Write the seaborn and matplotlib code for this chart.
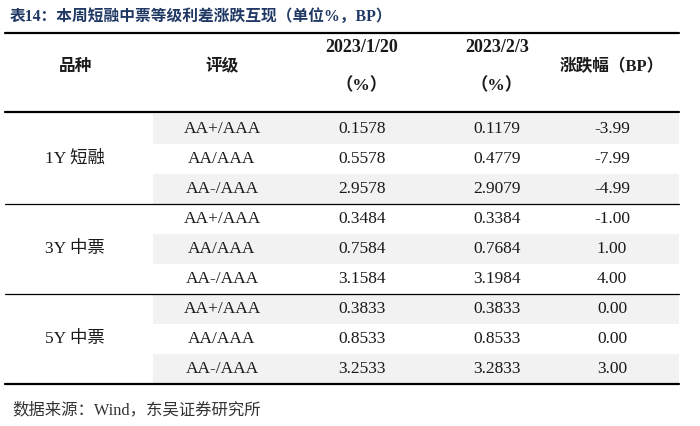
import numpy as np
import pandas as pd
import matplotlib
matplotlib.use('Agg')
import matplotlib.pyplot as plt
import seaborn as sns

# table data
title = '表14：本周短融中票等级利差涨跌互现（单位%，BP）'
source = '数据来源：Wind，东吴证券研究所'
header_cols = ['品种', '评级', '2023/1/20', '2023/2/3', '涨跌幅（BP）']
varieties = ['1Y 短融', '3Y 中票', '5Y 中票']
ratings = ['AA+/AAA', 'AA/AAA', 'AA-/AAA']
spread_0120 = [0.1578, 0.5578, 2.9578, 0.3484, 0.7584, 3.1584, 0.3833, 0.8533, 3.2533]
spread_0203 = [0.1179, 0.4779, 2.9079, 0.3384, 0.7684, 3.1984, 0.3833, 0.8533, 3.2833]
change_bp = [-3.99, -7.99, -4.99, -1.00, 1.00, 4.00, 0.00, 0.00, 3.00]

df = pd.DataFrame({
    'variety': np.repeat(varieties, len(ratings)),
    'rating': ratings * len(varieties),
    'd0120': spread_0120,
    'd0203': spread_0203,
    'chg': change_bp,
})

sns.set_theme(style='white')
plt.rcParams['font.family'] = ['Liberation Serif', 'Noto Sans CJK SC', 'DejaVu Sans']

fig = plt.figure(figsize=(7, 4.26), dpi=100)
ax = fig.add_axes([0, 0, 1, 1])
ax.set_xlim(0, 700)
ax.set_ylim(426, 0)
ax.axis('off')

# layout (pixels)
col_x = [75, 222, 362, 497, 612]
x_left, x_right = 5, 679
shade_left = 153
row_top, row_h = 114, 30
txt = '#1a1a1a'

ax.text(10, 17, title, ha='left', va='center', fontsize=11.3, fontweight='bold', color='#1F3864')

# horizontal rules
ax.plot([x_left, x_right], [33, 33], color='black', lw=1.6)
ax.plot([x_left, x_right], [112, 112], color='black', lw=1.6)

# header
ax.text(col_x[0], 67, header_cols[0], ha='center', va='center', fontsize=12, fontweight='bold', color=txt)
ax.text(col_x[1], 67, header_cols[1], ha='center', va='center', fontsize=12, fontweight='bold', color=txt)
for c in (2, 3):
    ax.text(col_x[c], 48, header_cols[c], ha='center', va='center', fontsize=13, fontweight='bold', color=txt)
    ax.text(col_x[c], 86, '（%）', ha='center', va='center', fontsize=12.5, fontweight='bold', color=txt)
ax.text(col_x[4], 67, header_cols[4], ha='center', va='center', fontsize=12, fontweight='bold', color=txt)

# body rows
for i, row in df.iterrows():
    y0 = row_top + i * row_h
    yc = y0 + row_h / 2
    if i % 2 == 0:
        ax.fill_between([shade_left, x_right], y0, y0 + row_h, color='#F2F2F2', lw=0)
    ax.text(col_x[1], yc, row['rating'], ha='center', va='center', fontsize=12.5, color=txt)
    ax.text(col_x[2], yc, f"{row['d0120']:.4f}", ha='center', va='center', fontsize=12.5, color=txt)
    ax.text(col_x[3], yc, f"{row['d0203']:.4f}", ha='center', va='center', fontsize=12.5, color=txt)
    ax.text(col_x[4], yc, f"{row['chg']:.2f}", ha='center', va='center', fontsize=12.5, color=txt)

n_r = len(ratings)
for g, name in enumerate(varieties):
    yc = row_top + (g * n_r + 1) * row_h + row_h / 2
    ax.text(col_x[0], yc, name, ha='center', va='center', fontsize=12.5, color=txt)
    y_end = row_top + (g + 1) * n_r * row_h
    if g < len(varieties) - 1:
        ax.plot([x_left, x_right], [y_end, y_end], color='black', lw=0.9)
    else:
        ax.plot([x_left, x_right], [y_end, y_end], color='black', lw=1.6)

ax.text(12, 410, source, ha='left', va='center', fontsize=11.8, color='#333333')

fig.savefig('out.png', dpi=100)
